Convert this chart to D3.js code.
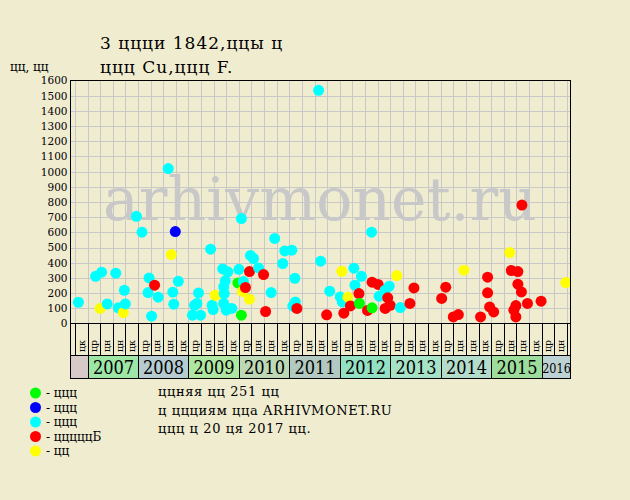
<!DOCTYPE html>
<html><head><meta charset="utf-8">
<script src="https://cdn.jsdelivr.net/npm/d3@7/dist/d3.min.js"></script>
<style>
body{margin:0;background:#f0ecd0;}
svg{display:block;}
text{font-family:"DejaVu Serif",serif;}
</style>
</head><body>
<script>
// ---- data ----
const titleLines = ["3 ццци 1842,ццы ц", "ццц Cu,ццц F."];
const yAxisTitle = "цц, цц";
const yTicks = [0,100,200,300,400,500,600,700,800,900,1000,1100,1200,1300,1400,1500,1600];

const quarterLabels = ["цк",
  "цр","цн","цн","цк", "цр","цн","цн","цк", "цр","цн","цн","цк",
  "цр","цн","цн","цк", "цр","цн","цн","цк", "цр","цн","цн","цк",
  "цр","цн","цн","цк", "цр","цн","цн","цк", "цр","цн","цн","цк",
  "цр","цн"];
const yearLabels = ["","2007","2008","2009","2010","2011","2012","2013","2014","2015","2016"];
const yearColors = ["#d8c9c9","#9de6a6","#b5cbd0","#aee6a2","#bcd8b4","#b2c9c2","#93e1c2","#a5e2c6","#b3dccb","#9cdc9c","#bdd2d2"];

const legendLabels = ["- ццц","- ццц","- ццц","- цццццБ","- цц"];
const legendKeys = ["g","b","c","r","y"];
const kindColors = {g:"#00ff00", b:"#0000ff", c:"#00ffff", r:"#ff0000", y:"#ffff00"};

const footerLines = ["ццняя цц 251 цц", "ц ццциям цца ARHIVMONET.RU", "ццц ц 20 ця 2017 цц."];
const watermark = "arhivmonet.ru";

// sale dates (decimal years), prices, and grade keys
const saleDates = [2008.60,2007.97,2008.08,2008.74,2008.66,2007.16,2007.28,2007.56,2008.22,2008.33,
  2008.80,2007.73,2008.20,2008.40,2008.69,2006.82,2007.39,2007.25,2007.61,2007.75,
  2007.71,2008.27,2008.71,2010.05,2010.71,2009.44,2010.91,2011.05,2010.23,2010.29,
  2010.87,2009.68,2009.78,2010.00,2010.39,2010.21,2010.49,2011.11,2009.73,2009.98,
  2010.09,2010.13,2009.70,2009.71,2009.53,2010.07,2010.21,2010.64,2009.20,2009.17,
  2009.12,2009.08,2009.24,2009.47,2009.49,2009.70,2009.75,2009.86,2010.05,2010.53,
  2011.12,2011.07,2011.15,2011.62,2011.58,2012.63,2012.04,2012.28,2012.43,2013.13,
  2012.30,2012.64,2012.76,2012.98,2012.90,2013.47,2011.80,2012.38,2012.16,2012.01,
  2012.05,2012.78,2012.95,2012.39,2012.21,2012.64,2012.55,2012.90,2013.00,2013.20,
  2013.39,2012.08,2011.74,2015.61,2015.37,2014.46,2015.40,2015.53,2014.93,2014.10,
  2015.53,2015.60,2014.93,2014.02,2015.99,2015.72,2014.97,2015.05,2015.49,2015.45,
  2015.49,2014.25,2014.35,2014.79,2016.48];
const salePrices = [1020,706,601,605,454,311,338,331,300,252,
  278,219,204,173,206,140,129,99,103,129,
  72,48,127,691,560,489,478,483,448,428,
  395,359,340,357,366,342,322,298,281,267,
  276,237,241,197,186,211,160,204,201,132,
  120,55,55,120,92,132,88,99,55,79,
  142,114,99,410,1535,601,344,364,311,316,
  252,272,257,246,219,234,213,197,173,175,
  142,180,169,132,116,103,86,99,120,105,
  132,68,57,780,467,351,349,342,305,239,
  259,208,202,165,147,132,109,76,118,88,
  43,43,59,43,270];
const saleKinds = ["c","c","c","b","y","c","c","c","c","r",
  "c","c","c","c","c","c","c","y","c","c",
  "y","c","c","c","c","c","c","c","c","c",
  "c","c","c","c","c","r","r","c","c","g",
  "c","r","c","c","y","y","y","c","c","c",
  "c","c","c","c","c","c","c","c","g","r",
  "c","c","r","c","c","c","y","c","c","y",
  "c","r","r","c","c","r","c","r","y","c",
  "c","c","r","g","r","g","r","r","r","c",
  "r","r","r","r","y","y","r","r","r","r",
  "r","r","r","r","r","r","r","r","r","r",
  "r","r","r","r","y"];

(function () {
// ---- drawing ----
const W = 630, H = 500;
const svg = d3.select("body").append("svg").attr("width", W).attr("height", H);
svg.append("rect").attr("width", W).attr("height", H).attr("fill", "#f0ecd0");

const pLeft = 70.5, pRight = 570.5, pTop = 80.5, pBottom = 323.5;
const x = d3.scaleLinear().domain([2006.663, 2016.573]).range([pLeft, pRight]);
const y = d3.scaleLinear().domain([0, 1600]).range([pBottom, pTop]);

// grid
const quarterEdges = d3.range(0, 40).map(i => 2006.75 + i * 0.25);
const grid = svg.append("g").attr("stroke", "#c9c9c9").attr("stroke-width", 1);
grid.selectAll("line.v").data(quarterEdges).join("line").attr("class", "v")
  .attr("x1", d => Math.round(x(d)) + 0.5).attr("x2", d => Math.round(x(d)) + 0.5)
  .attr("y1", pTop).attr("y2", pBottom);
grid.selectAll("line.h").data(yTicks.slice(1, -1)).join("line").attr("class", "h")
  .attr("x1", pLeft).attr("x2", pRight)
  .attr("y1", d => Math.round(y(d)) + 0.5).attr("y2", d => Math.round(y(d)) + 0.5);

// watermark
svg.append("text").attr("x", 320).attr("y", 220).attr("text-anchor", "middle")
  .attr("font-size", 60).attr("fill", "#c8c8c8").text(watermark);

// points (chronological order)
const pts = saleDates.map((d, i) => ({d, v: salePrices[i], k: saleKinds[i]}))
  .sort((a, b) => a.d - b.d);
svg.append("g").selectAll("circle").data(pts).join("circle")
  .attr("cx", p => x(p.d)).attr("cy", p => y(p.v)).attr("r", 5.5)
  .attr("fill", p => kindColors[p.k]);

// frame
svg.append("rect").attr("x", pLeft).attr("y", pTop).attr("width", pRight - pLeft).attr("height", pBottom - pTop)
  .attr("fill", "none").attr("stroke", "#000");

// y axis labels
const yAxis = d3.axisLeft(y).tickValues(yTicks).tickFormat(d3.format("d")).tickSize(0).tickPadding(3);
const ya = svg.append("g").attr("transform", `translate(${pLeft},0)`).call(yAxis);
ya.select(".domain").remove();
ya.selectAll("text").attr("font-family", "DejaVu Serif").attr("font-size", 10.5).attr("fill", "#000");

// quarter label row
const rowTop = pBottom, rowBot = 355.5, yearBot = 378.5;
const qg = svg.append("g");
qg.selectAll("line").data(quarterEdges).join("line")
  .attr("x1", d => Math.round(x(d)) + 0.5).attr("x2", d => Math.round(x(d)) + 0.5)
  .attr("y1", rowTop).attr("y2", rowBot).attr("stroke", "#000");
qg.append("line").attr("x1", pLeft).attr("x2", pLeft).attr("y1", rowTop).attr("y2", yearBot).attr("stroke", "#000");
qg.append("line").attr("x1", pRight).attr("x2", pRight).attr("y1", rowTop).attr("y2", yearBot).attr("stroke", "#000");
qg.selectAll("text").data(quarterLabels).join("text")
  .attr("transform", (d, i) => `translate(${x(2006.875 + 0.25 * i) + 3.5},352) rotate(-90)`)
  .attr("font-size", 9.5).attr("fill", "#000").text(d => d);

// year row
const d0 = x.domain()[0], d1 = x.domain()[1];
const xe = v => v === d0 ? pLeft : (v === d1 ? pRight : Math.round(x(v)) + 0.5);
const yearSpans = yearLabels.map((t, i) => {
  const a = i === 0 ? d0 : 2006 + i;
  const b = i === yearLabels.length - 1 ? d1 : 2007 + i;
  return {t, a, b, c: yearColors[i]};
});
const yg = svg.append("g");
yg.selectAll("rect").data(yearSpans).join("rect")
  .attr("x", s => xe(s.a)).attr("width", s => xe(s.b) - xe(s.a))
  .attr("y", rowBot).attr("height", yearBot - rowBot)
  .attr("fill", s => s.c).attr("stroke", "#000");
yg.selectAll("text").data(yearSpans).join("text")
  .attr("x", s => (xe(s.a) + xe(s.b)) / 2).attr("y", s => s.t === "2016" ? 373 : 374)
  .attr("text-anchor", "middle")
  .attr("font-family", "'DejaVu Serif Condensed','DejaVu Serif',serif")
  .attr("font-stretch", "condensed")
  .attr("font-size", s => s.t === "2016" ? 12.5 : 18)
  .attr("fill", "#000").text(s => s.t);

// titles
svg.selectAll("text.title").data(titleLines).join("text").attr("class", "title")
  .attr("x", 100).attr("y", (d, i) => 48.5 + i * 24)
  .attr("font-size", 17).attr("letter-spacing", 1).attr("fill", "#000").text(d => d);
svg.append("text").attr("x", 10).attr("y", 71).attr("font-size", 12).attr("fill", "#000").text(yAxisTitle);

// legend
const lg = svg.append("g");
const legY = [393, 407.5, 422, 436.5, 451];
lg.selectAll("circle").data(legendKeys).join("circle")
  .attr("cx", 35.5).attr("cy", (d, i) => legY[i]).attr("r", 5.5).attr("fill", d => kindColors[d]);
lg.selectAll("text").data(legendLabels).join("text")
  .attr("x", 46).attr("y", (d, i) => legY[i] + 4).attr("font-size", 12).attr("fill", "#000").text(d => d);

// footer
svg.selectAll("text.foot").data(footerLines).join("text").attr("class", "foot")
  .attr("x", 158).attr("y", (d, i) => 396 + i * 18.5)
  .attr("font-size", 13).attr("letter-spacing", 0.6).attr("fill", "#000").text(d => d);
})();
</script>
</body></html>
